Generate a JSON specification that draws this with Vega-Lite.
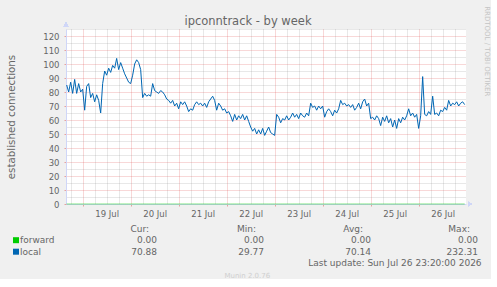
{
  "$schema": "https://vega.github.io/schema/vega-lite/v6.json",
  "background": "#F0F0F0",
  "padding": {"left": 6, "top": 5, "right": 0, "bottom": 0},
  "bounds": "flush",
  "spacing": 27.7,
  "config": {
    "view": {"stroke": null},
    "font": "DejaVu Sans",
    "axis": {"labelFont": "DejaVu Sans", "titleFont": "DejaVu Sans"}
  },
  "datasets": {
    "series": [
      {"h": -8, "forward": 0, "local": 85}, {"h": -7, "forward": 0, "local": 80}, {"h": -6, "forward": 0, "local": 87}, {"h": -5, "forward": 0, "local": 79},
      {"h": -4, "forward": 0, "local": 89}, {"h": -3, "forward": 0, "local": 79}, {"h": -2, "forward": 0, "local": 86}, {"h": -1, "forward": 0, "local": 80},
      {"h": 0, "forward": 0, "local": 82}, {"h": 1, "forward": 0, "local": 67}, {"h": 2, "forward": 0, "local": 84}, {"h": 3, "forward": 0, "local": 86},
      {"h": 4, "forward": 0, "local": 76}, {"h": 5, "forward": 0, "local": 79}, {"h": 6, "forward": 0, "local": 73}, {"h": 7, "forward": 0, "local": 78},
      {"h": 8, "forward": 0, "local": 74}, {"h": 9, "forward": 0, "local": 65}, {"h": 10, "forward": 0, "local": 86}, {"h": 11, "forward": 0, "local": 95},
      {"h": 12, "forward": 0, "local": 92}, {"h": 13, "forward": 0, "local": 97}, {"h": 14, "forward": 0, "local": 94}, {"h": 15, "forward": 0, "local": 99},
      {"h": 16, "forward": 0, "local": 97}, {"h": 17, "forward": 0, "local": 104}, {"h": 18, "forward": 0, "local": 96}, {"h": 19, "forward": 0, "local": 101},
      {"h": 20, "forward": 0, "local": 97}, {"h": 21, "forward": 0, "local": 93}, {"h": 22, "forward": 0, "local": 90}, {"h": 23, "forward": 0, "local": 87},
      {"h": 24, "forward": 0, "local": 86}, {"h": 25, "forward": 0, "local": 92}, {"h": 26, "forward": 0, "local": 100}, {"h": 27, "forward": 0, "local": 103},
      {"h": 28, "forward": 0, "local": 101}, {"h": 29, "forward": 0, "local": 96}, {"h": 30, "forward": 0, "local": 76}, {"h": 31, "forward": 0, "local": 79},
      {"h": 32, "forward": 0, "local": 77}, {"h": 33, "forward": 0, "local": 78}, {"h": 34, "forward": 0, "local": 77}, {"h": 35, "forward": 0, "local": 86},
      {"h": 36, "forward": 0, "local": 81}, {"h": 37, "forward": 0, "local": 80}, {"h": 38, "forward": 0, "local": 79}, {"h": 39, "forward": 0, "local": 81},
      {"h": 40, "forward": 0, "local": 80}, {"h": 41, "forward": 0, "local": 78}, {"h": 42, "forward": 0, "local": 75}, {"h": 43, "forward": 0, "local": 74},
      {"h": 44, "forward": 0, "local": 72}, {"h": 45, "forward": 0, "local": 74}, {"h": 46, "forward": 0, "local": 70}, {"h": 47, "forward": 0, "local": 72},
      {"h": 48, "forward": 0, "local": 68}, {"h": 49, "forward": 0, "local": 73}, {"h": 50, "forward": 0, "local": 71}, {"h": 51, "forward": 0, "local": 73},
      {"h": 52, "forward": 0, "local": 70}, {"h": 53, "forward": 0, "local": 66}, {"h": 54, "forward": 0, "local": 68}, {"h": 55, "forward": 0, "local": 67},
      {"h": 56, "forward": 0, "local": 71}, {"h": 57, "forward": 0, "local": 73}, {"h": 58, "forward": 0, "local": 71}, {"h": 59, "forward": 0, "local": 72},
      {"h": 60, "forward": 0, "local": 70}, {"h": 61, "forward": 0, "local": 72}, {"h": 62, "forward": 0, "local": 69}, {"h": 63, "forward": 0, "local": 73},
      {"h": 64, "forward": 0, "local": 75}, {"h": 65, "forward": 0, "local": 77}, {"h": 66, "forward": 0, "local": 74}, {"h": 67, "forward": 0, "local": 67},
      {"h": 68, "forward": 0, "local": 72}, {"h": 69, "forward": 0, "local": 70}, {"h": 70, "forward": 0, "local": 67}, {"h": 71, "forward": 0, "local": 68},
      {"h": 72, "forward": 0, "local": 65}, {"h": 73, "forward": 0, "local": 66}, {"h": 74, "forward": 0, "local": 63}, {"h": 75, "forward": 0, "local": 59},
      {"h": 76, "forward": 0, "local": 64}, {"h": 77, "forward": 0, "local": 60}, {"h": 78, "forward": 0, "local": 63}, {"h": 79, "forward": 0, "local": 61},
      {"h": 80, "forward": 0, "local": 64}, {"h": 81, "forward": 0, "local": 60}, {"h": 82, "forward": 0, "local": 63}, {"h": 83, "forward": 0, "local": 59},
      {"h": 84, "forward": 0, "local": 55}, {"h": 85, "forward": 0, "local": 52}, {"h": 86, "forward": 0, "local": 54}, {"h": 87, "forward": 0, "local": 50},
      {"h": 88, "forward": 0, "local": 53}, {"h": 89, "forward": 0, "local": 50}, {"h": 90, "forward": 0, "local": 54}, {"h": 91, "forward": 0, "local": 49},
      {"h": 92, "forward": 0, "local": 52}, {"h": 93, "forward": 0, "local": 55}, {"h": 94, "forward": 0, "local": 51}, {"h": 95, "forward": 0, "local": 50},
      {"h": 96, "forward": 0, "local": 49}, {"h": 97, "forward": 0, "local": 64}, {"h": 98, "forward": 0, "local": 62}, {"h": 99, "forward": 0, "local": 58},
      {"h": 100, "forward": 0, "local": 61}, {"h": 101, "forward": 0, "local": 60}, {"h": 102, "forward": 0, "local": 63}, {"h": 103, "forward": 0, "local": 60},
      {"h": 104, "forward": 0, "local": 62}, {"h": 105, "forward": 0, "local": 65}, {"h": 106, "forward": 0, "local": 62}, {"h": 107, "forward": 0, "local": 64},
      {"h": 108, "forward": 0, "local": 61}, {"h": 109, "forward": 0, "local": 65}, {"h": 110, "forward": 0, "local": 63}, {"h": 111, "forward": 0, "local": 62},
      {"h": 112, "forward": 0, "local": 65}, {"h": 113, "forward": 0, "local": 63}, {"h": 114, "forward": 0, "local": 72}, {"h": 115, "forward": 0, "local": 69},
      {"h": 116, "forward": 0, "local": 70}, {"h": 117, "forward": 0, "local": 67}, {"h": 118, "forward": 0, "local": 70}, {"h": 119, "forward": 0, "local": 68},
      {"h": 120, "forward": 0, "local": 70}, {"h": 121, "forward": 0, "local": 62}, {"h": 122, "forward": 0, "local": 66}, {"h": 123, "forward": 0, "local": 68},
      {"h": 124, "forward": 0, "local": 66}, {"h": 125, "forward": 0, "local": 63}, {"h": 126, "forward": 0, "local": 67}, {"h": 127, "forward": 0, "local": 65},
      {"h": 128, "forward": 0, "local": 68}, {"h": 129, "forward": 0, "local": 74}, {"h": 130, "forward": 0, "local": 71}, {"h": 131, "forward": 0, "local": 72},
      {"h": 132, "forward": 0, "local": 70}, {"h": 133, "forward": 0, "local": 71}, {"h": 134, "forward": 0, "local": 69}, {"h": 135, "forward": 0, "local": 71},
      {"h": 136, "forward": 0, "local": 67}, {"h": 137, "forward": 0, "local": 69}, {"h": 138, "forward": 0, "local": 72}, {"h": 139, "forward": 0, "local": 68},
      {"h": 140, "forward": 0, "local": 73}, {"h": 141, "forward": 0, "local": 75}, {"h": 142, "forward": 0, "local": 70}, {"h": 143, "forward": 0, "local": 72},
      {"h": 144, "forward": 0, "local": 61}, {"h": 145, "forward": 0, "local": 62}, {"h": 146, "forward": 0, "local": 60}, {"h": 147, "forward": 0, "local": 63},
      {"h": 148, "forward": 0, "local": 61}, {"h": 149, "forward": 0, "local": 56}, {"h": 150, "forward": 0, "local": 62}, {"h": 151, "forward": 0, "local": 59},
      {"h": 152, "forward": 0, "local": 63}, {"h": 153, "forward": 0, "local": 58}, {"h": 154, "forward": 0, "local": 61}, {"h": 155, "forward": 0, "local": 55},
      {"h": 156, "forward": 0, "local": 60}, {"h": 157, "forward": 0, "local": 54}, {"h": 158, "forward": 0, "local": 61}, {"h": 159, "forward": 0, "local": 58},
      {"h": 160, "forward": 0, "local": 62}, {"h": 161, "forward": 0, "local": 60}, {"h": 162, "forward": 0, "local": 63}, {"h": 163, "forward": 0, "local": 68},
      {"h": 164, "forward": 0, "local": 63}, {"h": 165, "forward": 0, "local": 65}, {"h": 166, "forward": 0, "local": 62}, {"h": 167, "forward": 0, "local": 64},
      {"h": 168, "forward": 0, "local": 54}, {"h": 169, "forward": 0, "local": 63}, {"h": 170, "forward": 0, "local": 91}, {"h": 171, "forward": 0, "local": 64},
      {"h": 172, "forward": 0, "local": 63}, {"h": 173, "forward": 0, "local": 66}, {"h": 174, "forward": 0, "local": 64}, {"h": 175, "forward": 0, "local": 77},
      {"h": 176, "forward": 0, "local": 64}, {"h": 177, "forward": 0, "local": 65}, {"h": 178, "forward": 0, "local": 63}, {"h": 179, "forward": 0, "local": 67},
      {"h": 180, "forward": 0, "local": 66}, {"h": 181, "forward": 0, "local": 69}, {"h": 182, "forward": 0, "local": 67}, {"h": 183, "forward": 0, "local": 74},
      {"h": 184, "forward": 0, "local": 70}, {"h": 185, "forward": 0, "local": 72}, {"h": 186, "forward": 0, "local": 71}, {"h": 187, "forward": 0, "local": 73},
      {"h": 188, "forward": 0, "local": 70}, {"h": 189, "forward": 0, "local": 72}, {"h": 190, "forward": 0, "local": 73}, {"h": 191, "forward": 0, "local": 71}
    ],
    "stats": [
      {"series": "forward", "Cur": 0.00, "Min": 0.00, "Avg": 0.00, "Max": 0.00},
      {"series": "local", "Cur": 70.88, "Min": 29.77, "Avg": 70.14, "Max": 232.31}
    ],
    "heads": [
      {"col": "Cur", "head": "Cur:"},
      {"col": "Min", "head": "Min:"},
      {"col": "Avg", "head": "Avg:"},
      {"col": "Max", "head": "Max:"}
    ],
    "notes": [
      {"row": "update", "text": "Last update: Sun Jul 26 23:20:00 2026"},
      {"row": "munin", "text": "Munin 2.0.76"}
    ]
  },
  "vconcat": [
    {
      "width": 400,
      "height": 175,
      "view": {"fill": "#FFFFFF", "stroke": null},
      "data": {"name": "series"},
      "layer": [
        {
          "mark": {"type": "line", "color": "#00CC00", "strokeWidth": 1, "opacity": 0.5},
          "encoding": {
            "x": {
              "field": "h", "type": "quantitative",
              "scale": {"domain": [-8.333, 191.667], "nice": false, "zero": false},
              "axis": {
                "orient": "bottom",
                "values": [-6, 6, 12, 18, 30, 36, 42, 54, 60, 66, 78, 84, 90, 102, 108, 114, 126, 132, 138, 150, 156, 162, 174, 180, 186],
                "grid": true, "gridColor": "#8F8F8F", "gridOpacity": 0.4, "gridDash": [1, 1],
                "labels": false, "ticks": false, "domain": false,
                "title": "ipconntrack - by week",
                "titleX": 181.5, "titleY": -179.3,
                "titleAlign": "center", "titleBaseline": "alphabetic",
                "titleFontSize": 11.5, "titleFontWeight": "normal", "titleColor": "#666666"
              }
            },
            "y": {
              "field": "forward", "type": "quantitative",
              "scale": {"domain": [0, 125], "nice": false},
              "axis": {
                "orient": "left",
                "values": [5, 15, 25, 35, 45, 55, 65, 75, 85, 95, 105, 115, 125],
                "grid": true, "gridColor": "#8F8F8F", "gridOpacity": 0.4, "gridDash": [1, 1],
                "labels": false, "ticks": false, "domain": false,
                "title": "RRDTOOL / TOBI OETIKER",
                "titleAngle": 90, "titleX": 420.3, "titleY": -23.3,
                "titleAlign": "left", "titleBaseline": "middle",
                "titleFontSize": 7, "titleFontWeight": "normal", "titleColor": "#C4C4C4"
              }
            }
          }
        },
        {
          "mark": {"type": "line", "color": "#0066B3", "strokeWidth": 1},
          "encoding": {
            "x": {
              "field": "h", "type": "quantitative",
              "axis": {
                "orient": "bottom",
                "values": [0, 24, 48, 72, 96, 120, 144, 168],
                "grid": true, "gridColor": "#DE5050", "gridOpacity": 0.45, "gridDash": [1, 1],
                "labelExpr": "(19 + datum.value / 24) + ' Jul'",
                "labelOffset": 24, "labelFlush": false,
                "labelFontSize": 8.5, "labelColor": "#666666", "labelPadding": 3,
                "ticks": true, "tickColor": "#DE5050", "tickOpacity": 0.5, "tickSize": 2,
                "domain": true, "domainColor": "#CFD6F8",
                "title": null
              }
            },
            "y": {
              "field": "local", "type": "quantitative",
              "axis": {
                "orient": "left",
                "values": [0, 10, 20, 30, 40, 50, 60, 70, 80, 90, 100, 110, 120],
                "grid": true, "gridColor": "#DE5050", "gridOpacity": 0.45, "gridDash": [1, 1],
                "labelFontSize": 8.5, "labelColor": "#666666", "labelPadding": 5,
                "ticks": true, "tickColor": "#DE5050", "tickOpacity": 0.5, "tickSize": 2,
                "domain": true, "domainColor": "#CFD6F8",
                "title": "established connections",
                "titleAngle": -90, "titleX": -54.8, "titleY": 87.5,
                "titleAlign": "center", "titleBaseline": "middle",
                "titleFontSize": 10.3, "titleFontWeight": "normal", "titleColor": "#666666"
              }
            }
          }
        },
        {
          "mark": {"type": "point", "shape": "triangle-up", "filled": true, "size": 22, "opacity": 1, "color": "#CFD6F8", "yOffset": -4.5},
          "encoding": {
            "x": {"datum": -8.333, "type": "quantitative", "axis": null},
            "y": {"datum": 125, "type": "quantitative", "axis": null}
          }
        },
        {
          "mark": {"type": "point", "shape": "triangle-right", "filled": true, "size": 22, "opacity": 1, "color": "#CFD6F8", "xOffset": 4},
          "encoding": {
            "x": {"datum": 191.667, "type": "quantitative", "axis": null},
            "y": {"datum": 0, "type": "quantitative", "axis": null}
          }
        }
      ],
      "resolve": {"axis": {"x": "independent", "y": "independent"}}
    },
    {
      "width": 321,
      "height": 46,
      "layer": [
        {
          "data": {"name": "heads"},
          "mark": {"type": "text", "align": "right", "baseline": "alphabetic", "dx": 83, "fontSize": 9, "color": "#666666"},
          "encoding": {
            "x": {"field": "col", "type": "nominal", "scale": {"type": "point", "domain": ["Cur", "Min", "Avg", "Max"], "padding": 0}, "axis": null},
            "y": {"datum": "head", "type": "nominal", "scale": {"type": "point", "domain": ["head", "forward", "local", "update", "munin"], "padding": 0}, "axis": null},
            "text": {"field": "head", "type": "nominal"}
          }
        },
        {
          "data": {"name": "stats"},
          "transform": [{"fold": ["Cur", "Min", "Avg", "Max"], "as": ["stat", "value"]}],
          "mark": {"type": "text", "align": "right", "baseline": "alphabetic", "dx": 91, "fontSize": 9, "color": "#666666"},
          "encoding": {
            "x": {"field": "stat", "type": "nominal", "axis": null},
            "y": {"field": "series", "type": "nominal", "axis": null},
            "text": {"field": "value", "type": "quantitative", "format": ".2f"}
          }
        },
        {
          "data": {"name": "stats"},
          "mark": {"type": "text", "align": "left", "baseline": "alphabetic", "dx": -46, "fontSize": 9, "color": "#666666"},
          "encoding": {
            "x": {"datum": "Cur", "type": "nominal", "axis": null},
            "y": {"field": "series", "type": "nominal", "axis": null},
            "text": {"field": "series", "type": "nominal"}
          }
        },
        {
          "data": {"name": "stats"},
          "mark": {"type": "point", "shape": "square", "filled": true, "size": 36, "opacity": 1, "xOffset": -50, "yOffset": -3},
          "encoding": {
            "x": {"datum": "Cur", "type": "nominal", "axis": null},
            "y": {"field": "series", "type": "nominal", "axis": null},
            "color": {"field": "series", "type": "nominal", "scale": {"domain": ["forward", "local"], "range": ["#00CC00", "#0066B3"]}, "legend": null}
          }
        },
        {
          "data": {"name": "notes"},
          "transform": [{"filter": "datum.row === 'update'"}],
          "mark": {"type": "text", "align": "right", "baseline": "alphabetic", "dx": 94.6, "fontSize": 9, "color": "#666666"},
          "encoding": {
            "x": {"datum": "Max", "type": "nominal", "axis": null},
            "y": {"field": "row", "type": "nominal", "axis": null},
            "text": {"field": "text", "type": "nominal"}
          }
        },
        {
          "data": {"name": "notes"},
          "transform": [{"filter": "datum.row === 'munin'"}],
          "mark": {"type": "text", "align": "center", "baseline": "alphabetic", "dx": 74.3, "fontSize": 7, "color": "#CFCFCF"},
          "encoding": {
            "x": {"datum": "Min", "type": "nominal", "axis": null},
            "y": {"field": "row", "type": "nominal", "axis": null},
            "text": {"field": "text", "type": "nominal"}
          }
        }
      ]
    }
  ]
}
